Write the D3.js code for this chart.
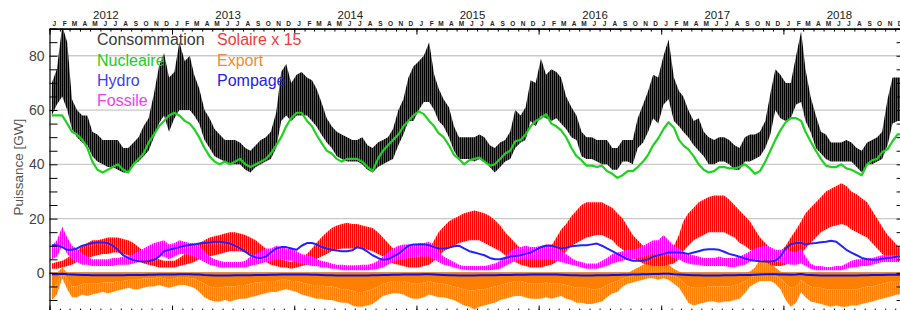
<!DOCTYPE html>
<html><head><meta charset="utf-8">
<script src="https://cdn.jsdelivr.net/npm/d3@7"></script>
<style>
html,body{margin:0;padding:0;background:#fff;}
svg{display:block;font-family:"Liberation Sans",Arial,Helvetica,sans-serif;}
</style></head><body>
<svg id="chart" width="900" height="310"></svg>
<script>
// ---------- DATA (semi-monthly readings, Jan 2012 .. Dec 2018, GW) ----------
const years = [2012, 2013, 2014, 2015, 2016, 2017, 2018];
const monthLetters = ["J","F","M","A","M","J","J","A","S","O","N","D"];
const yTickLabels = [0, 20, 40, 60, 80];

const consHi = [
 70,75,91,85,64,60,58,58,52,51,49,49,49,49,46,46,48,50,54,57,66,76,81,72,
 74,85,78,80,73,68,60,57,53,51,49,49,49,48,46,45,47,49,50,52,59,74,77,70,
 73,74,72,71,68,63,57,54,52,51,50,49,49,50,47,46,48,49,50,53,60,64,72,76,
 78,80,85,73,68,64,61,54,50,50,50,50,51,50,47,46,48,49,52,60,58,61,71,70,
 79,73,75,74,72,65,61,58,52,50,50,49,49,49,46,46,49,49,49,57,62,67,73,72,
 80,86,72,67,65,60,56,57,52,50,49,50,50,49,47,46,50,51,51,52,56,66,75,73,
 70,70,80,89,75,65,58,52,51,48,48,48,49,48,46,45,48,49,50,52,64,72,72,72];
const consLo = [
 58,62,65,60,53,50,48,47,43,41,40,39,39,38,37,37,40,41,43,45,50,55,58,52,
 57,60,60,60,58,55,49,46,43,42,41,40,40,40,38,37,39,40,41,42,46,56,58,56,
 58,58,58,56,54,51,48,46,43,42,41,41,41,40,38,37,39,40,41,42,47,51,56,56,
 60,63,63,60,56,54,50,45,42,42,42,41,42,41,39,37,39,41,42,46,48,49,56,54,
 58,57,56,57,55,53,50,49,43,42,42,41,40,40,38,38,41,41,40,46,48,52,57,55,
 62,64,56,54,52,50,47,45,43,40,40,41,41,40,38,38,41,41,42,43,46,51,60,57,
 56,57,62,63,56,52,46,44,42,41,41,41,41,41,39,37,40,40,41,42,47,55,56,56];
const nucleaire = [
 58,58,58,55,52,51,49,46,41,38,37,38,39,40,38,37,40,42,44,48,51,54,56,58,
 59,58,56,55,53,50,46,43,41,40,41,40,41,42,40,39,40,41,42,44,47,50,54,57,
 59,59,56,54,51,48,45,44,42,41,42,42,42,41,39,37.5,42,45,47,49,51,54,56,58,
 59.5,58.5,56,54,51.5,50,47,43.5,42,40,41.5,42,42.5,41,39.5,40,42,44,45,48.5,49,51,54,56,
 57,58.5,55,54,52.5,50,46,43,41.5,39.5,39.5,39,39.5,37.5,36.5,35,36,37.5,37.5,39,41,43.5,47,49.5,
 53,55.5,53.5,49,47,45.5,43,40,38,37,37.5,39,39,38.5,38.5,39,40,38.5,36.5,37.5,41,45,49,52.5,
 55.5,57,57,56,52,48.5,45,42,39.5,39,39,40,38.5,38,37,36,40,41.5,42,44.5,45.5,48.5,51,51];
const hydro = [
 10.2,10.2,9.5,8.5,8.5,9,10,10.5,11,11.2,11.2,11,10,8.5,6.5,5.5,4.7,4.3,4.2,4.3,4.8,6,8,8.5,
 9,9.5,10,10.3,10.5,10.8,11,11.2,11.5,11.5,11.2,10.8,10,9,7.8,6.5,5.7,5.5,6,7.5,9,9.5,9.5,9,
 8.5,10,11,11,10.5,9.6,9,8.5,8.2,8,8,8.3,9.5,9,7.8,6.5,5.5,4.8,5,6,7,8.5,10,10.5,
 10.5,10.5,10.2,9.5,9,9,9.3,9.8,10,9,8,7.5,7,6.5,5.5,5,5,5.5,6,6.2,6.5,7,7.5,8.5,
 9.5,10,10,9.5,9,9.3,9.8,10,10.2,10.2,10.5,10.8,10,9,8,7,6,5,4.5,4.5,4.5,5,6,6.5,
 7,7.5,7.5,7.5,7.3,7,7.5,8,8.5,8.7,8.7,8.5,7.8,7,6.5,6,5.3,4.8,4.5,4.3,4.2,4.2,4.5,6,
 9,10.5,11,11,10.5,10.8,11,11.3,11.5,11.8,11.5,10,8.5,7.5,6.5,5.5,5,4.8,4.8,5.2,5.5,5.7,6,6];
const fossileLo = [
 5,6,10,7,5,4,3,3,2.5,2.5,2.5,2.5,2.5,3,3,3,3.5,4,4.5,5,5.5,6,6,5,
 6,7,7,6.5,6,5,4,3,2.5,2,2,2,2,2,2,2.5,3,3.5,4,4.5,5,5,4.5,4.5,
 4,3.5,3,2.5,2.5,2,2,1.5,1.5,1,1,1,1,1,1,1.2,1.5,2,3,4,5,5,5.5,5.5,
 6,6,6,5,4,3,2.5,2,1.5,1.2,1,1,1,1,1,1.2,1.5,2.5,3.5,4.5,5,5,5,5,
 5,5,5,4.5,4,3.5,3,2.5,2,1.5,1.5,1.5,2,2.5,3.5,4,4.5,5,5,5.5,6,6.5,7,6.5,
 7,6.5,5.5,5,4,3.5,3,3,2.5,2.5,2.5,2.5,2.5,2.2,2.2,2.5,3,4,4.5,4.5,5,4.5,4,4,
 3.5,3,3,3.5,2.5,1.5,1,1,1,1,1,1,1.5,2,2.2,2.5,2.5,3,3.5,4,4,4,4,4];
const fossileHi = [
 10,12,17,13,10,9,7,6,5,5,5,5,5.5,5.5,6,6,7,8,9,10,11,11.5,12,10.5,
 11,12,11.5,11,11,10,8,6,5,4.5,4,4,4,4,4.5,6,7,8,9,9,10,9.5,9,9,
 8,7,6.5,6,5,4.5,4,3.5,3,3,2.8,2.8,2.8,3,3,3.5,4.5,6,7.5,9,10,10.5,10.5,10.5,
 11,11,11.5,10,8,6,5,4,3,2.5,2.5,2.5,2.5,2.5,3,3.5,4.5,6,8,9,9.5,10,9.5,9.5,
 10,10.5,10.5,9,8,7,5.5,4.5,4,3.5,3.5,3.5,4.5,5.5,7,7.5,8,8.5,8.5,9,10,11,12,12,
 14,12,10,9,8,7,6.5,6,5.5,5.5,5.5,6,5.5,5.5,5.5,6,7,8,9,9.5,10,9.5,8.5,8.5,
 8.5,8,7.5,9,6,3.5,2.5,2.5,2.2,2.2,2.5,2.5,3.5,4.5,5,5,5.5,5.5,6,6.5,6.5,6.5,6.5,6.5];
const solaireLo = [
 1.5,1.5,2,2.5,3,4,5,5.5,6,6.5,7,7,7.5,7.5,7,6.5,5.5,4.5,3.5,3,2.5,2,2,2,
 2,2.5,3,3.5,4,5,5.5,6,6.5,7,7.5,8,8,8,7.5,7,6,5,4,3,2.5,2,2,1.5,
 2,2.5,3,4,5,6,7,8,8.5,9,9,9,9,9,8.5,8,7,6,4.5,3.5,3,2.5,2,2,
 2,2.5,3,4.5,6,8,9,10,11,11.5,12,12,12,11,10,9,8,6.5,5,4,3,2.5,2,2,
 2,2.5,3,4,6,8,10,11,12,13,13.5,14,14,13,12,10,8.5,7,5.5,4.5,3.5,3,2.5,2.5,
 2.5,3,3.5,5,8,10,12,13,14,15,15,15,15,14,13,11,10,8.5,7,5.5,4,3,2.5,2.5,
 3,4,5,7,9,11,13,15,16,17,17.5,18,17.5,16,15,14,13,11,9,7,5.5,5,4.5,4];
const solaireHi = [
 3.5,4,4.5,5.5,7,8,10,11,12,12,12.5,13,13,13,12.5,12,11,9.5,8,7,6,5,4.5,4.5,
 4.5,5.5,7,8,10,11,12,13,13.5,14,14.5,15,15,14.5,14,13,12,10.5,9,7.5,6,5,4.5,4,
 5,6,7,9,11,13,15,16.5,17.5,18,18.5,18,18,17.5,17,16.5,15,13,11,9,7.5,6.5,6,6,
 6,7,9,12,15,17,19,20,21,22,22.5,23,22.5,22,21,19.5,17.5,15,13,11,9,7.5,6.5,6,
 6,8,10,13,16,18,21,23,25,26,26,26,26,25,24,22,20,17,14,12,10,8.5,7.5,7,
 7,8,10,14,19,22,24,26,27,28,28.5,28.5,28.5,27,25,23,21,19,16,13,11,9,8,8,
 10,13,16,19,22,24,26,28,30,31,32,33,32,30,29,27.5,26,23,20,17,14,12,10,9];
const exportMid = [
 -6,-4,0,-2,-5,-5,-4,-4,-4,-4,-3.5,-3.5,-3.5,-3,-3,-2.5,-2.5,-2.5,-2,-2,-2,-1.5,-2,-2.5,
 -2,-1.5,-1.5,-2,-2,-3,-4,-5,-5.5,-5.5,-5,-5,-5,-4.5,-4.5,-4,-3.5,-3.5,-3,-3,-3,-2.5,-2.5,-3,
 -3,-3.5,-4,-4.5,-4.5,-4.5,-5,-5,-5.5,-6,-6,-6.5,-7,-7,-6.5,-6,-5,-4,-3.5,-3,-3,-3,-3.5,-4,
 -4,-3.5,-3,-3.5,-4,-4,-4.5,-5,-5.5,-6,-6.5,-6.5,-6,-6,-5.5,-5,-4.5,-4,-3.5,-3,-3,-3.5,-4,-4,
 -4,-3.5,-4,-4,-4,-4.5,-5,-5.5,-5.5,-5.5,-6,-6,-5.5,-4.5,-3.5,-3,-2,-1.5,-1,-0.5,-0.5,0,0,0,
 0,0,-1,-2,-3.5,-5,-5.5,-5.5,-5.5,-5,-5,-5,-5,-5,-4.5,-4,-3,-2,-1,-0.5,0,-0.5,-1,-2,
 -4,-5.5,-5,-2.5,-4,-5,-5.5,-5.5,-6,-6,-6,-6,-6,-6,-6,-5.5,-5,-5,-4.5,-4,-3.5,-3,-3,-3];
const exportLo = [
 -10,-8,-2,-6,-9,-9,-8,-8.5,-8,-7.5,-7,-7.5,-7,-6.5,-6,-5.5,-6,-6,-5.5,-5,-5,-4.5,-5,-5.5,
 -5,-4.5,-4.5,-5,-5.5,-7,-9,-10,-10.5,-10.5,-10,-10.5,-10,-9.5,-9.5,-9,-8.5,-8,-7.5,-7,-7,-6.5,-6,-6.5,
 -7,-8,-8.5,-9,-9.5,-9.5,-10,-10,-10.5,-11,-11,-12,-12.5,-12.5,-12,-11.5,-10,-8.5,-8,-7.5,-7.5,-8,-9,-9.5,
 -9.5,-9,-8,-8.5,-9,-9,-9.5,-10,-11,-12,-12.5,-13.5,-12.5,-12,-11.5,-11,-10,-9.5,-9,-8.5,-8.5,-9,-9.5,-9.5,
 -9.5,-9,-9.5,-9,-8.5,-9.5,-10,-11,-11,-11.5,-11.5,-11,-10.5,-9,-7.5,-7,-5,-4,-3.5,-3,-2.5,-2,-2,-2.5,
 -2,-2.5,-4,-5.5,-8,-11,-12,-11.5,-11,-10.5,-10.5,-11,-10.5,-10.5,-10,-9.5,-7.5,-5,-4,-3,-3,-3,-4,-6,
 -10,-12.5,-11,-7,-9,-10.5,-11,-11.5,-12,-12.5,-12,-12.5,-12.5,-12,-12,-11.5,-11,-10.5,-10,-9.5,-9,-8.5,-8,-8];
const importMax = [
 0,0,2,0,0,0,0,0,0,0,0,0,0,0,0,0,0,0,0,0,0,0,0,0,
 0,0,0,0,0,0,0,0,0,0,0,0,0,0,0,0,0,0,0,0,0,0,0,0,
 0,0,0,0,0,0,0,0,0,0,0,0,0,0,0,0,0,0,0,0,0,0,0,0,
 0,0,0,0,0,0,0,0,0,0,0,0,0,0,0,0,0,0,0,0,0,0,0,0,
 0,0,0,0,0,0,0,0,0,0,0,0,0,0,0,0,0,0,1,2,3,4,3.5,3,
 4.5,3,1.5,0.5,0,0,0,0,0,0,0,0,0,0,0,0,0,0.5,2,5,6,4,2,0.5,
 0,0,0,0,0,0,0,0,0,0,0,0,0,0,0,0,0,0,0,0,0,0,0,0];
const pompage = [
 -0.5,-0.5,-0.3,-0.5,-0.6,-0.7,-0.8,-0.8,-0.9,-0.9,-0.9,-0.9,-0.9,-0.9,-0.9,-0.8,-0.8,-0.8,-0.8,-0.7,-0.7,-0.6,-0.6,-0.6,
 -0.6,-0.5,-0.5,-0.5,-0.6,-0.6,-0.8,-0.9,-1.0,-1.0,-1.0,-1.0,-0.9,-0.9,-0.9,-0.9,-0.8,-0.8,-0.8,-0.7,-0.7,-0.6,-0.6,-0.6,
 -0.6,-0.6,-0.6,-0.7,-0.7,-0.8,-0.9,-0.9,-1.0,-1.0,-1.0,-1.0,-1.0,-1.0,-1.0,-0.9,-0.9,-0.8,-0.8,-0.7,-0.7,-0.6,-0.6,-0.6,
 -0.6,-0.5,-0.5,-0.6,-0.7,-0.8,-0.9,-0.9,-1.0,-1.0,-1.0,-1.0,-0.9,-0.9,-0.9,-0.9,-0.8,-0.8,-0.8,-0.7,-0.7,-0.7,-0.6,-0.6,
 -0.6,-0.6,-0.6,-0.6,-0.7,-0.8,-0.9,-0.9,-1.0,-1.0,-1.0,-0.9,-0.9,-0.9,-0.8,-0.8,-0.7,-0.7,-0.6,-0.6,-0.5,-0.5,-0.4,-0.4,
 -0.3,-0.3,-0.5,-0.6,-0.7,-0.8,-0.9,-0.9,-1.0,-1.0,-1.0,-1.0,-0.9,-0.9,-0.9,-0.8,-0.8,-0.8,-0.7,-0.6,-0.5,-0.5,-0.5,-0.6,
 -0.6,-0.7,-0.6,-0.4,-0.7,-0.8,-0.9,-1.0,-1.0,-1.0,-1.0,-1.0,-1.0,-1.0,-1.0,-0.9,-0.9,-0.8,-0.8,-0.8,-0.7,-0.7,-0.7,-0.7];

const legendItems = [
  {label: "Consommation", color: "#3a3a3a", col: 0, row: 0},
  {label: "Nucleaire",    color: "#22cc22", col: 0, row: 1},
  {label: "Hydro",        color: "#3f3fe6", col: 0, row: 2},
  {label: "Fossile",      color: "#f23cf2", col: 0, row: 3},
  {label: "Solaire x 15", color: "#f23a3a", col: 1, row: 0},
  {label: "Export",       color: "#f58a33", col: 1, row: 1},
  {label: "Pompage",      color: "#2222ee", col: 1, row: 2}
];

// half-month time grid (8th and 23rd of each month)
const dates = consHi.map((_, i) =>
  new Date(years[0] + Math.floor(i / 24), Math.floor((i % 24) / 2), i % 2 ? 23 : 8));

// ---------- SCALES ----------
const x = d3.scaleTime().domain([new Date(2012,0,1), new Date(2019,0,1)]).range([49.5, 905.6]);
const y = d3.scaleLinear().domain([-15, 90]).range([313.6, 28.6]);
const [x0, x1] = x.range(), [yB, yT] = y.range();

const svg = d3.select("#chart");
const defs = svg.append("defs");
defs.append("clipPath").attr("id","plotClip").append("rect")
  .attr("x", x0).attr("y", yT).attr("width", x1 - x0).attr("height", yB - yT);

function stripes(id, bg, fg, w, lw) {
  const p = defs.append("pattern").attr("id", id).attr("patternUnits","userSpaceOnUse")
    .attr("width", w).attr("height", 4);
  p.append("rect").attr("width", w).attr("height", 4).attr("fill", bg);
  p.append("rect").attr("width", lw).attr("height", 4).attr("fill", fg);
}
stripes("pCons", "#555", "#000", 2, 1);
stripes("pSol", "#ff6a6a", "#ff0000", 2, 1);
stripes("pFos", "#ff80ff", "#ff00ff", 2, 1);
stripes("pExp", "#ff9d40", "#ff8000", 2, 1);

// ---------- GRID ----------
svg.append("g").selectAll("line").data(yTickLabels).join("line")
  .attr("x1", x0).attr("x2", x1).attr("y1", d => y(d)).attr("y2", d => y(d))
  .attr("stroke", "#c9c9c9").attr("stroke-width", 1.3);

const plot = svg.append("g").attr("clip-path", "url(#plotClip)");

function band(lo, hi, fill) {
  plot.append("path").datum(dates)
    .attr("d", d3.area().x(d => x(d)).y0((d,i) => y(lo[i])).y1((d,i) => y(hi[i])))
    .attr("fill", fill);
}
function line(vals, color, w) {
  plot.append("path").datum(dates)
    .attr("d", d3.line().x(d => x(d)).y((d,i) => y(vals[i])))
    .attr("fill", "none").attr("stroke", color).attr("stroke-width", w)
    .attr("stroke-linejoin", "round");
}
const zeros = dates.map(() => 0);

// Export (negative = exports), imports above 0
band(exportMid, exportLo, "url(#pExp)");
band(zeros, exportMid, "#ff8000");
band(zeros, importMax, "url(#pExp)");

// Consommation
band(consLo, consHi, "url(#pCons)");
// Nucleaire
line(nucleaire, "#1fd21f", 2.2);
// Solaire x 15
band(solaireLo, solaireHi, "url(#pSol)");
// Fossile
band(fossileLo, fossileHi, "url(#pFos)");
// Hydro
line(hydro, "#2222ff", 2);
// zero line + Pompage
plot.append("line").attr("x1", x0).attr("x2", x1).attr("y1", y(0)).attr("y2", y(0))
  .attr("stroke", "#e07a1a").attr("stroke-width", 1.2);
line(pompage, "#1010dd", 2);

// ---------- AXES ----------
const axisStyle = g => {
  g.select(".domain").attr("stroke", "#000").attr("stroke-width", 1.2);
  g.selectAll(".tick line").attr("stroke", "#000").attr("stroke-width", 1);
};
const monthTicks = d3.timeMonth.range(new Date(2012,0,1), new Date(2019,0,2));
const yearTicks = d3.timeYear.range(new Date(2012,0,1), new Date(2019,0,2));

// top
svg.append("g").attr("transform", `translate(0,${yT})`)
  .call(d3.axisTop(x).tickValues(monthTicks).tickSize(-3).tickSizeOuter(0).tickFormat(""))
  .call(axisStyle);
svg.append("g").attr("transform", `translate(0,${yT})`)
  .call(d3.axisTop(x).tickValues(yearTicks).tickSize(-6).tickSizeOuter(0).tickFormat(""))
  .call(axisStyle);
const midMonths = monthTicks.slice(0, -1).map(d => new Date(d.getFullYear(), d.getMonth(), 14));
svg.append("g").attr("transform", `translate(0,${yT})`)
  .call(d3.axisTop(x).tickValues(midMonths).tickSize(0).tickPadding(3)
    .tickFormat(d => monthLetters[d.getMonth()]))
  .call(g => g.select(".domain").remove())
  .call(g => g.selectAll("text").attr("font-size", 6.5).attr("font-weight", "bold")
    .attr("fill", "#222").attr("font-family", "'Liberation Sans',Arial,sans-serif"));
svg.append("g").attr("transform", `translate(0,${yT})`)
  .call(d3.axisTop(x).tickValues(years.map(yr => new Date(yr, 5, 16))).tickSize(0).tickPadding(10)
    .tickFormat(d => d.getFullYear()))
  .call(g => g.select(".domain").remove())
  .call(g => g.selectAll("text").attr("font-size", 11.5).attr("fill", "#222")
    .attr("font-family", "'Liberation Sans',Arial,sans-serif"));

// bottom
svg.append("g").attr("transform", `translate(0,${yB})`)
  .call(d3.axisTop(x).tickValues(monthTicks).tickSize(5).tickSizeOuter(0).tickFormat(""))
  .call(axisStyle);
svg.append("g").attr("transform", `translate(0,${yB})`)
  .call(d3.axisTop(x).tickValues(yearTicks).tickSize(8).tickSizeOuter(0).tickFormat(""))
  .call(axisStyle);

// left
const minorY = d3.range(-15, 91, 5);
svg.append("g").attr("transform", `translate(${x0},0)`)
  .call(d3.axisRight(y).tickValues(minorY).tickSize(8).tickSizeOuter(0).tickFormat(""))
  .call(axisStyle);
svg.append("g").attr("transform", `translate(${x0},0)`)
  .call(d3.axisLeft(y).tickValues(yTickLabels).tickSize(0).tickPadding(5))
  .call(g => g.select(".domain").remove())
  .call(g => g.selectAll("text").attr("font-size", 14).attr("fill", "#444")
    .attr("font-family", "'Liberation Sans',Arial,sans-serif"));
// right
svg.append("g").attr("transform", `translate(${x1},0)`)
  .call(d3.axisLeft(y).tickValues(minorY).tickSize(9).tickSizeOuter(0).tickFormat(""))
  .call(axisStyle);

// y title
svg.append("text")
  .attr("transform", `translate(23,${(yB + yT) / 2 - 4}) rotate(-90)`)
  .attr("text-anchor", "middle").attr("font-size", 13.5).attr("fill", "#555")
  .text("Puissance [GW]");

// ---------- LEGEND ----------
const legX = [97, 217], legY = [45, 66, 86, 106];
svg.append("g").selectAll("text").data(legendItems).join("text")
  .attr("x", d => legX[d.col]).attr("y", d => legY[d.row])
  .attr("font-size", 16).attr("fill", d => d.color)
  .text(d => d.label);
</script>
</body></html>
